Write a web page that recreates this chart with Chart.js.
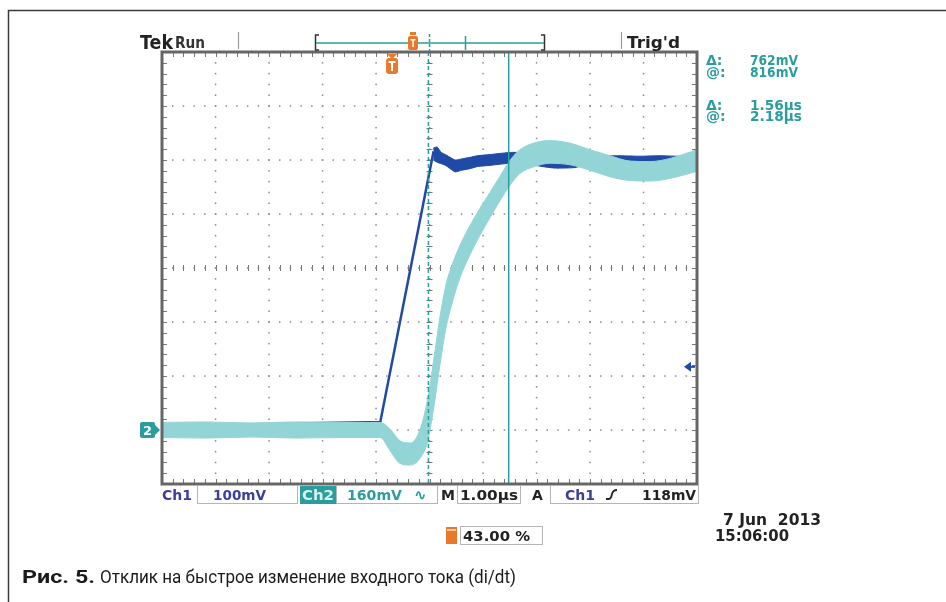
<!DOCTYPE html>
<html>
<head>
<meta charset="utf-8">
<script src="https://cdn.jsdelivr.net/npm/chart.js@4.4.0/dist/chart.umd.min.js"></script>
<style>
  html, body { margin: 0; padding: 0; background: #fff; }
  #wrap { width: 946px; height: 602px; }
</style>
</head>
<body>
<div id="wrap"><canvas id="scope" width="946" height="602"></canvas></div>
<script>
// =====================================
// DATA (time in µs from trigger, level in screen divisions)
// =====================================

const timeMin = -4.3;
const timeMax = 5.7;
const divMin = -4;
const divMax = 4;

// Ch2 - light cyan, noisy trace (upper / lower edge of the band)
const ch2Time  = [-4.3, -3.5, -2.6, -1.8, -1.0, -0.22, -0.04, 0.15, 0.34, 0.52, 0.67, 0.79, 0.90, 1.01, 1.12, 1.27, 1.46, 1.64, 1.83, 2.02, 2.21, 2.39, 2.67, 2.95, 3.33, 3.70, 4.07, 4.45, 4.82, 5.20, 5.70];
const ch2Upper = [-2.86, -2.85, -2.87, -2.85, -2.86, -2.86, -2.98, -3.20, -3.24, -3.00, -2.40, -1.62, -0.88, -0.30, 0.05, 0.42, 0.79, 1.10, 1.40, 1.70, 2.00, 2.19, 2.32, 2.36, 2.31, 2.19, 2.08, 1.98, 1.97, 2.03, 2.19];
const ch2Lower = [-3.14, -3.15, -3.13, -3.15, -3.14, -3.14, -3.38, -3.62, -3.65, -3.53, -3.20, -2.52, -1.76, -1.10, -0.66, -0.18, 0.25, 0.60, 0.93, 1.25, 1.54, 1.75, 1.88, 1.94, 1.91, 1.81, 1.69, 1.62, 1.61, 1.66, 1.79];

// Ch1 - dark blue trace
const ch1Time  = [-4.3, -0.22, 0.77, 0.84, 1.00, 1.18, 1.46, 1.83, 2.21, 2.58, 3.05, 3.42, 3.89, 4.64, 5.38, 5.70];
const ch1Level = [-2.92, -2.85, 2.13, 2.08, 2.00, 1.90, 1.95, 2.00, 2.05, 2.03, 1.94, 1.94, 2.00, 2.00, 2.00, 2.02];

// Ch1 noise band after the step
const ch1NoiseTime  = [0.77, 0.84, 0.92, 1.00, 1.10, 1.18, 1.30, 1.46, 1.60, 1.83, 2.00, 2.21, 2.40, 2.58, 2.80, 3.05, 3.42, 3.60, 3.89, 4.20, 4.64, 5.00, 5.38, 5.70];
const ch1NoiseUpper = [2.22, 2.24, 2.14, 2.10, 2.04, 2.00, 2.02, 2.05, 2.08, 2.10, 2.12, 2.14, 2.14, 2.12, 2.08, 2.02, 2.02, 2.06, 2.07, 2.08, 2.07, 2.08, 2.07, 2.10];
const ch1NoiseLower = [2.00, 1.96, 1.93, 1.90, 1.83, 1.78, 1.81, 1.84, 1.88, 1.90, 1.92, 1.94, 1.94, 1.92, 1.88, 1.85, 1.86, 1.91, 1.92, 1.93, 1.92, 1.93, 1.92, 1.95];

// Cursors, markers
const cursorTimes = [0.68, 2.18];     // dashed, solid
const triggerTime = 0;
const ch2Ground = -3;
const ch1TrigLevel = -1.83;

// Texts
const readoutLabels = ["Δ:", "@:", "Δ:", "@:"];
const readoutValues = ["762mV", "816mV", "1.56µs", "2.18µs"];
const captionBold = "Рис. 5.";
const captionText = "Отклик на быстрое изменение входного тока (di/dt)";

// =====================================
// COLORS
// =====================================

const cyan = "#93d5d6";
const blue = "#1f4aa6";
const teal = "#2a9d9d";
const orange = "#e8792a";
const frameGray = "#666666";
const dotGray = "#8a8a8a";

function pts(xs, ys) {
    return xs.map((x, i) => ({ x: x, y: ys[i] }));
}

// =====================================
// SCOPE DRAWING PLUGIN
// =====================================

function roundBox(ctx, x, y, w, h, r) {
    ctx.beginPath();
    ctx.moveTo(x + r, y);
    ctx.lineTo(x + w - r, y);
    ctx.quadraticCurveTo(x + w, y, x + w, y + r);
    ctx.lineTo(x + w, y + h - r);
    ctx.quadraticCurveTo(x + w, y + h, x + w - r, y + h);
    ctx.lineTo(x + r, y + h);
    ctx.quadraticCurveTo(x, y + h, x, y + h - r);
    ctx.lineTo(x, y + r);
    ctx.quadraticCurveTo(x, y, x + r, y);
    ctx.closePath();
}

function text(ctx, str, x, y, font, color) {
    ctx.font = font;
    ctx.fillStyle = color;
    ctx.textAlign = "left";
    ctx.textBaseline = "alphabetic";
    ctx.fillText(str, x, y);
}

// text squeezed / stretched to a given width
function fitText(ctx, str, x, y, width, font, color) {
    ctx.font = font;
    ctx.fillStyle = color;
    ctx.textAlign = "left";
    ctx.textBaseline = "alphabetic";
    const w = ctx.measureText(str).width;
    ctx.save();
    ctx.translate(x, y);
    ctx.scale(width / w, 1);
    ctx.fillText(str, 0, 0);
    ctx.restore();
}

const scopePlugin = {
    id: "scope",

    beforeDatasetsDraw(chart) {
        const ctx = chart.ctx;
        const xs = chart.scales.x;
        const ys = chart.scales.y;
        const a = chart.chartArea;
        const dx = (timeMax - timeMin) / 10;
        const dy = (divMax - divMin) / 8;

        ctx.save();
        ctx.fillStyle = dotGray;

        // dotted division lines
        for (let k = 1; k < 10; k++) {
            const px = xs.getPixelForValue(timeMin + k * dx);
            for (let m = 1; m < 40; m++) {
                const py = ys.getPixelForValue(divMin + m * dy / 5);
                ctx.fillRect(px - 0.7, py - 0.7, 1.5, 1.5);
            }
        }
        for (let j = 1; j < 8; j++) {
            const py = ys.getPixelForValue(divMin + j * dy);
            for (let m = 1; m < 50; m++) {
                const px = xs.getPixelForValue(timeMin + m * dx / 5);
                ctx.fillRect(px - 0.7, py - 0.7, 1.5, 1.5);
            }
        }

        // minor ticks on border and center cross
        ctx.strokeStyle = "#777";
        ctx.lineWidth = 1;
        const cx = xs.getPixelForValue(timeMin + 5 * dx);
        const cy = ys.getPixelForValue(0);
        ctx.beginPath();
        for (let m = 1; m < 50; m++) {
            const px = Math.round(xs.getPixelForValue(timeMin + m * dx / 5)) + 0.5;
            ctx.moveTo(px, a.top); ctx.lineTo(px, a.top + 5);
            ctx.moveTo(px, a.bottom); ctx.lineTo(px, a.bottom - 5);
            ctx.moveTo(px, cy - 3); ctx.lineTo(px, cy + 3);
        }
        for (let m = 1; m < 40; m++) {
            const py = Math.round(ys.getPixelForValue(divMin + m * dy / 5)) + 0.5;
            ctx.moveTo(a.left, py); ctx.lineTo(a.left + 5, py);
            ctx.moveTo(a.right, py); ctx.lineTo(a.right - 5, py);
            ctx.moveTo(cx - 3, py); ctx.lineTo(cx + 3, py);
        }
        ctx.stroke();
        ctx.restore();
    },

    afterDatasetsDraw(chart) {
        const ctx = chart.ctx;
        const xs = chart.scales.x;
        const ys = chart.scales.y;
        const a = chart.chartArea;

        ctx.save();

        // cursors
        ctx.strokeStyle = teal;
        ctx.lineWidth = 1.5;
        const c1 = xs.getPixelForValue(cursorTimes[0]);
        const c2 = xs.getPixelForValue(cursorTimes[1]);
        ctx.setLineDash([4, 3]);
        ctx.beginPath(); ctx.moveTo(c1, a.top); ctx.lineTo(c1, a.bottom); ctx.stroke();
        ctx.setLineDash([]);
        ctx.beginPath(); ctx.moveTo(c2, a.top); ctx.lineTo(c2, a.bottom); ctx.stroke();

        // graticule frame
        ctx.strokeStyle = frameGray;
        ctx.lineWidth = 3;
        ctx.strokeRect(a.left, a.top, a.right - a.left, a.bottom - a.top);

        // trigger marker (orange T)
        const tx = xs.getPixelForValue(triggerTime);
        ctx.fillStyle = orange;
        ctx.beginPath();
        ctx.moveTo(tx - 5, a.top + 2); ctx.lineTo(tx + 5, a.top + 2); ctx.lineTo(tx, a.top + 7);
        ctx.fill();
        roundBox(ctx, tx - 6, a.top + 6, 12, 16, 3);
        ctx.fill();
        ctx.fillStyle = "#fff";
        ctx.fillRect(tx - 3.5, a.top + 9, 7, 2);
        ctx.fillRect(tx - 1, a.top + 9, 2, 10);

        // ch2 ground marker
        const gy = ys.getPixelForValue(ch2Ground);
        ctx.fillStyle = teal;
        roundBox(ctx, 140, gy - 8, 15, 16, 2);
        ctx.fill();
        ctx.beginPath();
        ctx.moveTo(154, gy - 6); ctx.lineTo(160, gy); ctx.lineTo(154, gy + 6);
        ctx.fill();
        ctx.font = "bold 13px 'DejaVu Sans'";
        ctx.fillStyle = "#fff";
        ctx.fillText("2", 143, gy + 5);

        // ch1 trigger level arrow
        const ly = ys.getPixelForValue(ch1TrigLevel);
        ctx.fillStyle = blue;
        ctx.beginPath();
        ctx.moveTo(a.right - 13, ly); ctx.lineTo(a.right - 6, ly - 5); ctx.lineTo(a.right - 6, ly + 5);
        ctx.fill();
        ctx.fillRect(a.right - 7, ly - 1, 5, 2);

        // top status line
        fitText(ctx, "Tek", 140, 49, 33, "bold 19px 'DejaVu Sans'", "#222");
        fitText(ctx, "Run", 175, 48, 30, "bold 16px 'DejaVu Sans'", "#333");
        ctx.strokeStyle = "#999";
        ctx.lineWidth = 1.2;
        ctx.beginPath();
        ctx.moveTo(238.5, 32); ctx.lineTo(238.5, 49);
        ctx.moveTo(621.5, 32); ctx.lineTo(621.5, 49);
        ctx.stroke();
        fitText(ctx, "Trig'd", 627, 48, 53, "bold 16px 'DejaVu Sans'", "#222");

        // record bracket
        ctx.strokeStyle = "#333";
        ctx.lineWidth = 1.5;
        ctx.beginPath();
        ctx.moveTo(319, 35); ctx.lineTo(315.5, 35); ctx.lineTo(315.5, 50); ctx.lineTo(319, 50);
        ctx.moveTo(541, 35); ctx.lineTo(544.5, 35); ctx.lineTo(544.5, 50); ctx.lineTo(541, 50);
        ctx.stroke();
        ctx.strokeStyle = teal;
        ctx.beginPath();
        ctx.moveTo(316, 43); ctx.lineTo(544, 43);
        ctx.moveTo(465.5, 36); ctx.lineTo(465.5, 50);
        ctx.stroke();
        ctx.setLineDash([3, 2]);
        ctx.beginPath(); ctx.moveTo(429.5, 34); ctx.lineTo(429.5, 51); ctx.stroke();
        ctx.setLineDash([]);
        ctx.fillStyle = orange;
        roundBox(ctx, 408, 36, 10, 14, 2);
        ctx.fill();
        ctx.fillRect(410, 32, 6, 3);
        ctx.fillStyle = "#fff";
        ctx.fillRect(410.5, 39, 5, 1.5);
        ctx.fillRect(412.3, 39, 1.5, 8);

        // cursor readouts
        const ry = [65, 77, 110, 121];
        for (let i = 0; i < 4; i++) {
            text(ctx, readoutLabels[i], 706, ry[i], "bold 14px 'DejaVu Sans'", teal);
            fitText(ctx, readoutValues[i], 750, ry[i], i < 2 ? 48 : 52, "bold 14px 'DejaVu Sans'", teal);
        }

        // bottom status bar
        const bf = "bold 14px 'DejaVu Sans'";
        ctx.strokeStyle = "#b5b5b5";
        ctx.lineWidth = 1;
        ctx.strokeRect(197.5, 485.5, 100, 18);
        ctx.strokeRect(336.5, 485.5, 101, 18);
        ctx.strokeRect(457.5, 485.5, 63, 18);
        ctx.strokeRect(550.5, 485.5, 148, 18);
        fitText(ctx, "Ch1", 162, 500, 30, bf, "#3a3f9a");
        fitText(ctx, "100mV", 213, 500, 53, bf, "#3a3f9a");
        ctx.fillStyle = teal;
        ctx.fillRect(300, 486, 36, 18);
        fitText(ctx, "Ch2", 302, 500, 32, bf, "#d9f3f3");
        fitText(ctx, "160mV", 347, 500, 55, bf, teal);
        text(ctx, "∿", 414, 500, "bold 15px 'DejaVu Sans'", teal);
        text(ctx, "M", 441, 500, bf, "#222");
        fitText(ctx, "1.00µs", 460, 500, 58, bf, "#222");
        text(ctx, "A", 532, 500, bf, "#222");
        fitText(ctx, "Ch1", 565, 500, 30, bf, "#3a3f9a");
        ctx.strokeStyle = "#222";
        ctx.lineWidth = 1.8;
        ctx.beginPath();
        ctx.moveTo(606, 499); ctx.lineTo(609, 499);
        ctx.quadraticCurveTo(611, 499, 612, 494);
        ctx.quadraticCurveTo(613, 490, 617, 490);
        ctx.stroke();
        fitText(ctx, "118mV", 642, 500, 54, bf, "#222");

        // trigger position
        ctx.fillStyle = orange;
        ctx.fillRect(446, 527, 11, 17);
        ctx.fillStyle = "#f6c9a4";
        ctx.fillRect(447, 529, 9, 2);
        ctx.strokeStyle = "#b5b5b5";
        ctx.lineWidth = 1;
        ctx.strokeRect(460.5, 526.5, 82, 18);
        fitText(ctx, "43.00 %", 463, 541, 67, bf, "#222");

        // date / time
        fitText(ctx, "7 Jun  2013", 723, 525, 98, "bold 15px 'DejaVu Sans'", "#222");
        fitText(ctx, "15:06:00", 715, 541, 74, "bold 15px 'DejaVu Sans'", "#222");

        // outer frame
        ctx.strokeStyle = "#3a3a3a";
        ctx.lineWidth = 1.5;
        ctx.beginPath();
        ctx.moveTo(8.5, 602); ctx.lineTo(8.5, 10.5); ctx.lineTo(946, 10.5);
        ctx.stroke();

        // caption
        fitText(ctx, captionBold, 22, 583, 73, "bold 19px Roboto", "#1a1a1a");
        fitText(ctx, captionText, 100, 583, 416, "19px Roboto", "#1a1a1a");

        ctx.restore();
    }
};

// =====================================
// CHART
// =====================================

const scopeChart = new Chart(document.getElementById("scope"), {
    type: "line",
    data: {
        datasets: [
            {
                data: pts(ch2Time, ch2Upper),
                borderColor: cyan,
                backgroundColor: cyan,
                borderWidth: 1,
                fill: "+1",
                cubicInterpolationMode: "monotone"
            },
            {
                data: pts(ch2Time, ch2Lower),
                borderColor: cyan,
                borderWidth: 1,
                fill: false,
                cubicInterpolationMode: "monotone"
            },
            {
                data: pts(ch1NoiseTime, ch1NoiseUpper),
                borderColor: blue,
                backgroundColor: blue,
                borderWidth: 1,
                fill: "+1",
                tension: 0.2
            },
            {
                data: pts(ch1NoiseTime, ch1NoiseLower),
                borderColor: blue,
                borderWidth: 1,
                fill: false,
                tension: 0.2
            },
            {
                data: pts(ch1Time, ch1Level),
                borderColor: blue,
                borderWidth: 2.5,
                fill: false,
                tension: 0
            }
        ]
    },
    options: {
        responsive: false,
        animation: false,
        devicePixelRatio: 1,
        layout: {
            padding: { left: 162, right: 249, top: 52, bottom: 118 }
        },
        plugins: {
            legend: { display: false },
            tooltip: { enabled: false }
        },
        elements: {
            point: { radius: 0 }
        },
        scales: {
            x: { type: "linear", min: timeMin, max: timeMax, display: false },
            y: { type: "linear", min: divMin, max: divMax, display: false }
        }
    },
    plugins: [scopePlugin]
});
</script>
</body>
</html>
